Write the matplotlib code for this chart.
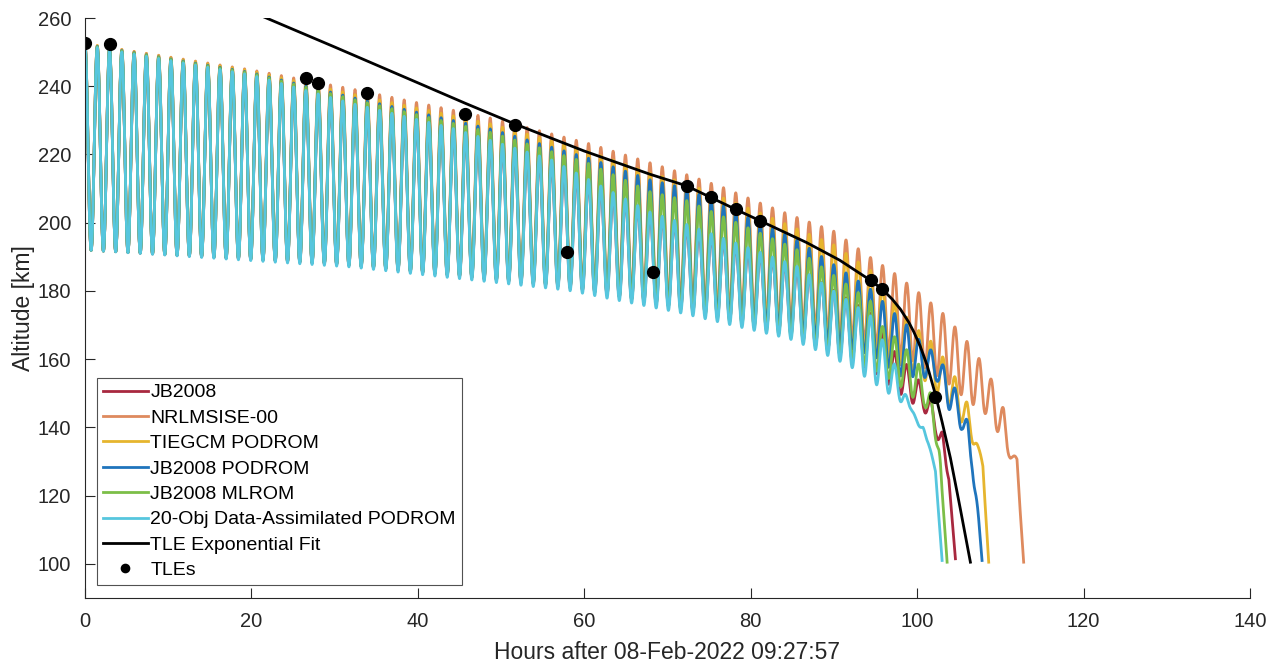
import numpy as np
import matplotlib
matplotlib.use('Agg')
import matplotlib.pyplot as plt

plt.rcParams['font.family'] = ['Liberation Sans', 'DejaVu Sans']

# orbit count vs. time (peak times)
orbit_t = [0, 32.45, 67.9, 94.4, 111.8, 114]
orbit_n = [0, 22, 46, 64, 76, 77.5]

# apogee / perigee envelopes for each model [hours, km]
jb_apo_t = [0, 20, 32, 44, 56, 68, 72.3, 85.5, 94.4, 97, 99.6, 101.6, 103, 103.8, 104.6]
jb_apo = [251.5, 243, 234.5, 227.5, 218, 203, 199, 187, 173.5, 163, 156.2, 148.3, 139, 125, 101.5]
jb_peri_t = [0, 32, 58, 71.5, 84.6, 91.9, 95, 97.5, 99, 100.8, 102.3, 103.8, 104.6]
jb_peri = [192, 187.5, 181, 175, 167.5, 160, 156, 150.7, 147.8, 145, 137.6, 125, 101.5]

nrl_apo_t = [0, 20, 32.5, 48.7, 60.4, 68, 72.4, 76.7, 81, 85.6, 90, 94.4, 97.2, 98.7, 100.2,
             101.6, 103.2, 104.6, 106.1, 107.5, 109, 110.4, 111.2, 112, 112.8]
nrl_apo = [252.5, 244.8, 239, 230.7, 223.3, 217.5, 214, 210.3, 205.9, 201.5, 197.5, 189.8, 185.3,
           182.4, 179.5, 176.6, 173.2, 169.3, 164.9, 160, 153.7, 145.4, 133, 131, 100.5]
nrl_peri_t = [0, 30, 58, 72, 85, 94.8, 100, 103.6, 106, 108.2, 109.6, 111.2, 112, 112.8]
nrl_peri = [192, 188.5, 182, 177.5, 171, 164.3, 159, 153.2, 148, 144, 139, 130.8, 129, 100.5]

tie_apo_t = [0, 20, 32.5, 48.7, 60.4, 68, 72.4, 81, 90, 94.4, 98.5, 100, 101.6, 103, 104.6,
             106, 107.3, 107.9, 108.6]
tie_apo = [252.5, 244.5, 237.5, 229, 221, 214.5, 211.5, 203, 193.5, 186, 173, 168.8, 165.4, 161,
           154.6, 147.3, 134.7, 130, 100.5]
tie_peri_t = [0, 30, 58, 70, 85, 95, 100, 104, 105.2, 106.6, 107.4, 107.9, 108.6]
tie_peri = [192, 188, 181.5, 177, 170, 162, 156, 146, 142, 135.6, 133, 128, 100.5]

pod_apo_t = [0, 20, 32.5, 48.7, 60.4, 68, 72.3, 85.5, 94.4, 97.2, 98.7, 100.2, 101.8, 103.2,
             104.6, 106.1, 107, 107.8]
pod_apo = [252.3, 244, 236.5, 227.5, 219, 212.5, 210, 195, 180.5, 173.6, 170.2, 165.8, 162.4,
           158, 151.2, 141.5, 125, 101]
pod_peri_t = [0, 30, 58, 70, 85, 94.8, 97.9, 101, 102.4, 103.8, 105.4, 106.6, 107.8]
pod_peri = [192, 188, 181.5, 176, 168.5, 161, 155.1, 154.6, 153.6, 145.4, 139, 128, 101]

ml_apo_t = [0, 20, 32.5, 48.7, 60.4, 68, 72.3, 85.5, 94.4, 95.8, 97.2, 98.7, 100.2, 101.6,
            102.6, 103.6]
ml_apo = [252.2, 243.8, 236, 226.5, 217.5, 209, 206.5, 192.2, 177, 169.7, 166.8, 162.9, 158.5,
          150.3, 135, 100.5]
ml_peri_t = [0, 30, 58, 70, 85, 94.8, 97.7, 99.5, 100.9, 101.6, 102.8, 103.6]
ml_peri = [192, 188, 181.2, 175.5, 166.5, 157, 152.7, 148.8, 146.4, 140.5, 131.7, 100.5]

da_apo_t = [0, 20, 32, 44, 56, 68, 72.3, 85.5, 94.4, 97.6, 99.6, 101.3, 102.2, 103.0]
da_apo = [252, 243.3, 235, 227.8, 218.5, 203, 199.5, 187.3, 172.7, 157, 143, 136, 128, 101]
da_peri_t = [0, 32, 58, 71.5, 84.6, 87.5, 91.9, 96.4, 99.2, 100.7, 102.2, 103.0]
da_peri = [192, 187, 180.2, 173.6, 166, 163.1, 158, 150.3, 145.5, 140.5, 127, 101]

# TLE exponential fit
fit_t = [21.5, 30, 40, 45.7, 51.7, 60, 67.9, 72.3, 75.2, 78.2, 81.1, 86.7, 90.7, 94.4, 95.8,
         97, 98, 99, 99.6, 100.4, 101.2, 102.2, 103, 104.0, 105.2, 106.4]
fit_alt = [260.3, 251.5, 241.0, 235.0, 228.9, 221.0, 214.2, 210.8, 207.4, 203.9, 200.6, 194.2,
           189.0, 183.1, 180.5, 177.6, 174.6, 170.8, 168.0, 163.6, 158.2, 149.6, 141.6, 131.0,
           116.0, 100.5]

# TLE points
tle_t = [0, 3.0, 26.6, 28.0, 33.9, 45.7, 51.7, 57.9, 68.3, 72.3, 75.2, 78.2, 81.1, 94.4, 95.8, 102.2]
tle_alt = [252.6, 252.5, 242.3, 241.0, 238.0, 231.9, 228.7, 191.4, 185.6, 210.9, 207.4, 203.9,
           200.6, 183.1, 180.5, 148.9]

models = [
    ('JB2008', '#A8283F', jb_apo_t, jb_apo, jb_peri_t, jb_peri),
    ('NRLMSISE-00', '#DE8A5E', nrl_apo_t, nrl_apo, nrl_peri_t, nrl_peri),
    ('TIEGCM PODROM', '#E6B52E', tie_apo_t, tie_apo, tie_peri_t, tie_peri),
    ('JB2008 PODROM', '#1F74BC', pod_apo_t, pod_apo, pod_peri_t, pod_peri),
    ('JB2008 MLROM', '#7CBE48', ml_apo_t, ml_apo, ml_peri_t, ml_peri),
    ('20-Obj Data-Assimilated PODROM', '#56C6DE', da_apo_t, da_apo, da_peri_t, da_peri),
]

fig = plt.figure(figsize=(12.71, 6.62), dpi=100)
ax = fig.add_axes([85 / 1271, 64 / 662, 1165 / 1271, 580 / 662])

for name, col, at, av, pt, pv in models:
    t = np.arange(0, at[-1] + 0.005, 0.01)
    apo = np.interp(t, at, av)
    peri = np.interp(t, pt, pv)
    phase = np.interp(t, orbit_t, orbit_n)
    alt = peri + (apo - peri) * (1 + np.cos(2 * np.pi * phase)) / 2
    ax.plot(t, alt, color=col, lw=2.0, label=name)

ax.plot(fit_t, fit_alt, color='k', lw=2.0, label='TLE Exponential Fit')
ax.plot(tle_t, tle_alt, 'o', color='k', ms=8.5, label='TLEs')

ax.set_xlim(0, 140)
ax.set_ylim(90, 260)
ax.set_xticks(range(0, 141, 20))
ax.set_yticks(range(100, 261, 20))
for s in ['top', 'right']:
    ax.spines[s].set_visible(False)
for s in ['left', 'bottom']:
    ax.spines[s].set_color('#262626')
    ax.spines[s].set_linewidth(0.8)
ax.tick_params(direction='in', length=7, width=0.8, colors='#262626', labelsize=14.5, pad=10)

ax.set_xlabel('Hours after 08-Feb-2022 09:27:57', fontsize=16.5, color='#262626', labelpad=7)
ax.set_ylabel('Altitude [km]', fontsize=16.5, color='#262626', labelpad=2)

leg = ax.legend(loc='lower left', bbox_to_anchor=(97 / 1271, 77 / 662), bbox_transform=fig.transFigure,
                borderaxespad=0, fontsize=14, frameon=True, fancybox=False, handlelength=2.3,
                handletextpad=0.15, labelspacing=0.4, borderpad=0.3, markerscale=0.7)
leg.get_frame().set_edgecolor('#262626')
leg.get_frame().set_linewidth(0.8)

fig.savefig('out.png', dpi=100)
